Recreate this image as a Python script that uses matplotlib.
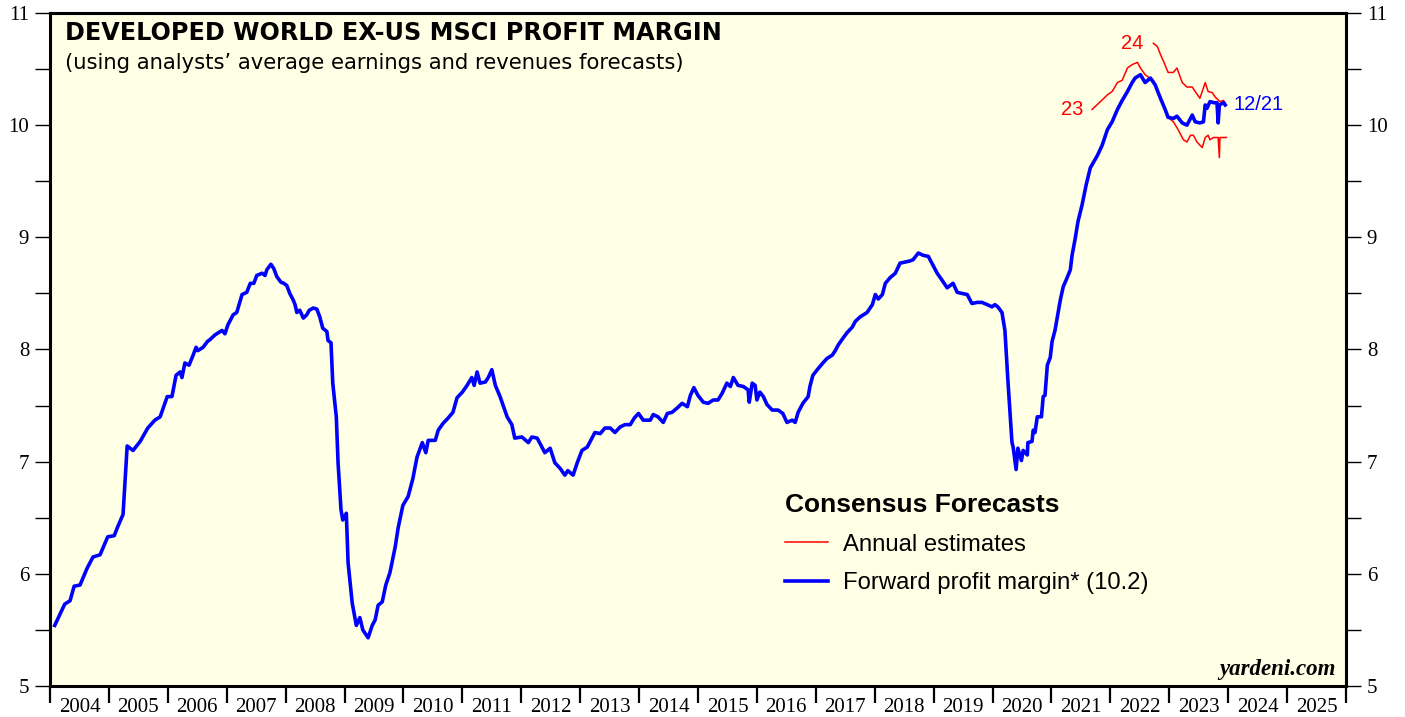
import matplotlib
matplotlib.use("Agg")
import matplotlib.pyplot as plt
from matplotlib.ticker import MultipleLocator, FixedLocator, NullFormatter, FixedFormatter

# forward profit margin (weekly), decimal years
fwd_dates = [2004.08, 2004.25, 2004.34, 2004.41, 2004.51, 2004.63, 2004.73, 2004.85, 2004.98, 2005.09,
             2005.15, 2005.24, 2005.31, 2005.41, 2005.53, 2005.66, 2005.78, 2005.87, 2005.99, 2006.07,
             2006.14, 2006.21, 2006.24, 2006.29, 2006.36, 2006.43, 2006.48, 2006.51, 2006.60, 2006.67,
             2006.72, 2006.80, 2006.92, 2006.97, 2007.02, 2007.11, 2007.17, 2007.26, 2007.34, 2007.40,
             2007.46, 2007.51, 2007.60, 2007.65, 2007.68, 2007.75, 2007.80, 2007.85, 2007.92, 2007.97,
             2008.02, 2008.07, 2008.13, 2008.16, 2008.19, 2008.24, 2008.30, 2008.36, 2008.40, 2008.47,
             2008.53, 2008.58, 2008.63, 2008.70, 2008.72, 2008.77, 2008.80, 2008.86, 2008.89, 2008.94,
             2008.97, 2009.03, 2009.06, 2009.13, 2009.20, 2009.26, 2009.31, 2009.40, 2009.47, 2009.52,
             2009.57, 2009.64, 2009.70, 2009.77, 2009.86, 2009.91, 2009.99, 2010.08, 2010.16, 2010.23,
             2010.32, 2010.38, 2010.42, 2010.54, 2010.59, 2010.67, 2010.76, 2010.84, 2010.91, 2011.00,
             2011.08, 2011.16, 2011.20, 2011.25, 2011.30, 2011.39, 2011.44, 2011.50, 2011.56, 2011.64,
             2011.76, 2011.84, 2011.89, 2012.01, 2012.12, 2012.18, 2012.27, 2012.35, 2012.40, 2012.49,
             2012.57, 2012.66, 2012.74, 2012.79, 2012.88, 2012.95, 2013.03, 2013.12, 2013.17, 2013.25,
             2013.34, 2013.42, 2013.51, 2013.59, 2013.68, 2013.76, 2013.85, 2013.92, 2013.99, 2014.07,
             2014.19, 2014.24, 2014.32, 2014.41, 2014.48, 2014.56, 2014.65, 2014.73, 2014.82, 2014.87,
             2014.93, 2015.00, 2015.09, 2015.17, 2015.26, 2015.34, 2015.41, 2015.49, 2015.55, 2015.60,
             2015.68, 2015.77, 2015.85, 2015.87, 2015.92, 2015.97, 2016.00, 2016.05, 2016.11, 2016.17,
             2016.26, 2016.36, 2016.44, 2016.51, 2016.60, 2016.65, 2016.70, 2016.78, 2016.87, 2016.90,
             2016.95, 2017.04, 2017.12, 2017.19, 2017.28, 2017.33, 2017.38, 2017.46, 2017.53, 2017.62,
             2017.67, 2017.75, 2017.87, 2017.96, 2018.01, 2018.06, 2018.13, 2018.18, 2018.26, 2018.35,
             2018.43, 2018.52, 2018.60, 2018.65, 2018.74, 2018.82, 2018.91, 2018.97, 2019.06, 2019.14,
             2019.23, 2019.28, 2019.33, 2019.40, 2019.48, 2019.57, 2019.65, 2019.74, 2019.82, 2019.91,
             2019.99, 2020.04, 2020.09, 2020.16, 2020.21, 2020.26, 2020.33, 2020.35, 2020.40, 2020.43,
             2020.49, 2020.52, 2020.59, 2020.60, 2020.67, 2020.69, 2020.72, 2020.76, 2020.83, 2020.86,
             2020.89, 2020.93, 2020.98, 2021.01, 2021.06, 2021.10, 2021.15, 2021.20, 2021.25, 2021.32,
             2021.35, 2021.40, 2021.45, 2021.52, 2021.59, 2021.66, 2021.78, 2021.86, 2021.95, 2022.03,
             2022.12, 2022.20, 2022.29, 2022.37, 2022.42, 2022.51, 2022.59, 2022.68, 2022.76, 2022.85,
             2022.93, 2022.98, 2023.07, 2023.13, 2023.22, 2023.30, 2023.39, 2023.44, 2023.52, 2023.58,
             2023.61, 2023.64, 2023.69, 2023.76, 2023.81, 2023.83, 2023.85, 2023.92, 2023.95]
fwd_margin = [5.54, 5.73, 5.76, 5.89, 5.90, 6.05, 6.15, 6.17, 6.33, 6.34,
              6.42, 6.53, 7.14, 7.10, 7.18, 7.30, 7.37, 7.40, 7.58, 7.58,
              7.77, 7.80, 7.75, 7.88, 7.86, 7.95, 8.02, 7.99, 8.02, 8.07,
              8.09, 8.13, 8.17, 8.14, 8.22, 8.31, 8.33, 8.49, 8.51, 8.59,
              8.59, 8.66, 8.68, 8.66, 8.71, 8.76, 8.72, 8.65, 8.60, 8.59,
              8.57, 8.50, 8.44, 8.40, 8.33, 8.35, 8.28, 8.31, 8.35, 8.37,
              8.36, 8.29, 8.19, 8.16, 8.08, 8.06, 7.70, 7.40, 6.99, 6.57,
              6.48, 6.54, 6.10, 5.74, 5.54, 5.61, 5.50, 5.43, 5.54, 5.59,
              5.72, 5.75, 5.90, 6.01, 6.24, 6.41, 6.61, 6.69, 6.85, 7.04,
              7.17, 7.08, 7.19, 7.19, 7.28, 7.34, 7.39, 7.44, 7.57, 7.62,
              7.68, 7.75, 7.68, 7.80, 7.70, 7.71, 7.75, 7.82, 7.68, 7.58,
              7.40, 7.33, 7.21, 7.22, 7.17, 7.22, 7.21, 7.13, 7.08, 7.12,
              6.99, 6.94, 6.88, 6.92, 6.88, 6.99, 7.10, 7.13, 7.18, 7.26,
              7.25, 7.30, 7.30, 7.26, 7.31, 7.33, 7.33, 7.39, 7.43, 7.37,
              7.37, 7.42, 7.40, 7.35, 7.43, 7.44, 7.48, 7.52, 7.49, 7.59,
              7.66, 7.59, 7.53, 7.52, 7.55, 7.55, 7.61, 7.70, 7.67, 7.75,
              7.68, 7.67, 7.64, 7.53, 7.70, 7.68, 7.55, 7.62, 7.58, 7.51,
              7.46, 7.46, 7.43, 7.35, 7.37, 7.35, 7.44, 7.52, 7.58, 7.67,
              7.77, 7.83, 7.88, 7.92, 7.95, 7.99, 8.04, 8.10, 8.15, 8.20,
              8.25, 8.29, 8.33, 8.40, 8.49, 8.45, 8.49, 8.59, 8.64, 8.68,
              8.77, 8.78, 8.79, 8.80, 8.86, 8.84, 8.83, 8.77, 8.68, 8.62,
              8.55, 8.57, 8.59, 8.51, 8.50, 8.49, 8.41, 8.42, 8.42, 8.40,
              8.38, 8.40, 8.38, 8.33, 8.17, 7.73, 7.17, 7.13, 6.93, 7.12,
              7.01, 7.10, 7.06, 7.17, 7.18, 7.28, 7.26, 7.40, 7.40, 7.58,
              7.59, 7.86, 7.93, 8.07, 8.17, 8.29, 8.44, 8.56, 8.62, 8.71,
              8.84, 8.98, 9.14, 9.29, 9.47, 9.62, 9.73, 9.82, 9.96, 10.03,
              10.14, 10.22, 10.30, 10.38, 10.42, 10.45, 10.38, 10.42, 10.36, 10.24,
              10.14, 10.07, 10.06, 10.08, 10.02, 10.00, 10.09, 10.03, 10.02, 10.03,
              10.18, 10.15, 10.21, 10.20, 10.20, 10.02, 10.18, 10.20, 10.18]

# annual estimates for 2023 and 2024
est23_dates = [2021.69, 2021.83, 2021.95, 2022.03, 2022.12, 2022.20, 2022.29, 2022.37, 2022.46, 2022.51,
               2022.59, 2022.64, 2022.73, 2022.85, 2022.98, 2023.07, 2023.15, 2023.24, 2023.30, 2023.36,
               2023.41, 2023.47, 2023.56, 2023.61, 2023.66, 2023.69, 2023.75, 2023.83, 2023.85, 2023.86,
               2023.97]
est23 = [10.14, 10.21, 10.27, 10.30, 10.38, 10.40, 10.51, 10.54, 10.56, 10.51,
         10.45, 10.43, 10.40, 10.25, 10.07, 10.03, 9.96, 9.87, 9.85, 9.91,
         9.91, 9.85, 9.80, 9.89, 9.91, 9.87, 9.89, 9.89, 9.71, 9.89,
         9.89]
est24_dates = [2022.73, 2022.80, 2022.85, 2022.91, 2022.98, 2023.07, 2023.13, 2023.22, 2023.30, 2023.39,
               2023.44, 2023.52, 2023.61, 2023.66, 2023.73, 2023.78, 2023.86, 2023.92, 2023.95]
est24 = [10.73, 10.70, 10.63, 10.56, 10.47, 10.47, 10.51, 10.38, 10.34, 10.34,
         10.30, 10.24, 10.38, 10.30, 10.29, 10.25, 10.21, 10.22, 10.20]

years = list(range(2004, 2026))

sans = "Liberation Sans"
serif = "Liberation Serif"

fig = plt.figure(figsize=(14.05, 7.17), dpi=100)
ax = fig.add_axes([50 / 1405, 31 / 717, 1296 / 1405, 673 / 717])
ax.set_facecolor("#FFFFE5")

ax.plot(est23_dates, est23, color="#FF0000", lw=1.1, label="Annual estimates")
ax.plot(est24_dates, est24, color="#FF0000", lw=1.1)
ax.plot(fwd_dates, fwd_margin, color="#0000FF", lw=2.6, label="Forward profit margin* (10.2)")

ax.set_xlim(2004, 2026)
ax.set_ylim(5, 11)

for s in ax.spines.values():
    s.set_linewidth(2.2)

# y axis on both sides
ax.yaxis.set_major_locator(MultipleLocator(1))
ax.yaxis.set_minor_locator(MultipleLocator(0.5))
ax.tick_params(axis="y", which="both", direction="out", length=11, width=1.0,
               left=True, right=True, labelleft=True, labelright=True, pad=4)
ax.tick_params(axis="y", which="major", labelsize=15)
for lab in ax.get_yticklabels():
    lab.set_fontfamily(serif)

# x axis: ticks at year boundaries, labels in the middle
ax.xaxis.set_major_locator(FixedLocator(list(range(2004, 2027))))
ax.xaxis.set_major_formatter(NullFormatter())
ax.xaxis.set_minor_locator(FixedLocator([y + 0.5 for y in years]))
ax.xaxis.set_minor_formatter(FixedFormatter([str(y) for y in years]))
ax.tick_params(axis="x", which="major", direction="out", length=12, width=1.6)
ax.tick_params(axis="x", which="minor", length=0, labelsize=15, pad=9)
for lab in ax.get_xticklabels(minor=True):
    lab.set_fontfamily(serif)

ax.text(0.0116, 0.970, "DEVELOPED WORLD EX-US MSCI PROFIT MARGIN", transform=ax.transAxes,
        fontsize=17.2, fontweight="bold", family="DejaVu Sans", va="center", ha="left")
ax.text(0.0116, 0.926, "(using analysts\u2019 average earnings and revenues forecasts)", transform=ax.transAxes,
        fontsize=15.2, family="DejaVu Sans", va="center", ha="left")

ax.annotate("23", xy=(est23_dates[0], est23[0]), xytext=(-6, 0), textcoords="offset points",
            color="#FF0000", fontsize=14.5, family=sans, ha="right", va="center")
ax.annotate("24", xy=(est24_dates[0], est24[0]), xytext=(-7, 0), textcoords="offset points",
            color="#FF0000", fontsize=14.5, family=sans, ha="right", va="center")
ax.annotate("12/21", xy=(fwd_dates[-1], fwd_margin[-1]), xytext=(6, 0), textcoords="offset points",
            color="#0000FF", fontsize=14.5, family=sans, ha="left", va="center")

leg = ax.legend(loc="upper left", bbox_to_anchor=(0.567, 0.287), frameon=False,
                title="Consensus Forecasts", alignment="left",
                prop={"family": sans, "size": 17.2}, handlelength=1.8, handletextpad=0.62,
                labelspacing=0.7, borderpad=0, borderaxespad=0)
leg.get_title().set_fontfamily(sans)
leg.get_title().set_fontweight("bold")
leg.get_title().set_fontsize(19)

ax.text(0.992, 0.016, "yardeni.com", transform=ax.transAxes, fontsize=16.5, family=serif,
        fontweight="bold", style="italic", ha="right", va="baseline")

fig.savefig("out.png", dpi=100)
